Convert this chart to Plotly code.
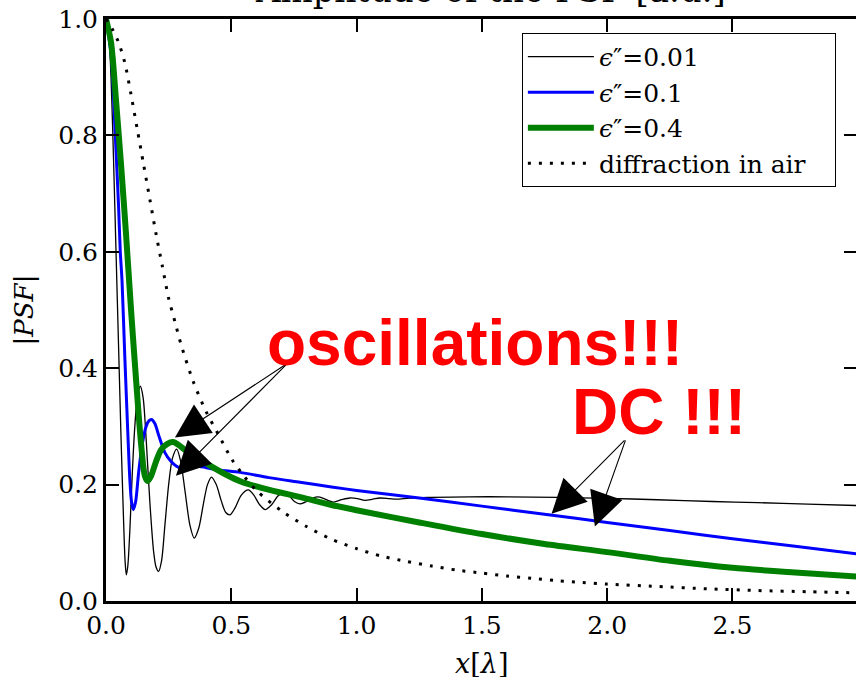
import plotly.graph_objects as go

# ---- data ----
x_air = [0, 0.025, 0.05, 0.075, 0.1, 0.125, 0.15, 0.175, 0.2, 0.225, 0.25, 0.275, 0.3, 0.35, 0.4, 0.45,
         0.5, 0.55, 0.6, 0.7, 0.8, 0.9, 1.0, 1.1, 1.2, 1.3, 1.4, 1.5, 1.6, 1.7, 1.8, 1.9, 2.0, 2.2, 2.4,
         2.6, 2.8, 3.0]
y_air = [1.0, 0.983, 0.96, 0.925, 0.87, 0.81, 0.75, 0.69, 0.63, 0.575, 0.52, 0.48, 0.44, 0.375, 0.325, 0.285,
         0.245, 0.215, 0.19, 0.155, 0.128, 0.106, 0.09, 0.077, 0.068, 0.06, 0.053, 0.048, 0.043, 0.039, 0.035,
         0.032, 0.029, 0.025, 0.021, 0.018, 0.016, 0.014]

x_e001 = [0, 0.01, 0.02, 0.03, 0.04, 0.05, 0.06, 0.07, 0.076, 0.081, 0.087, 0.095, 0.105, 0.115, 0.125, 0.137,
          0.148, 0.16, 0.175, 0.19, 0.2, 0.21, 0.222, 0.235, 0.25, 0.265, 0.282, 0.298, 0.315, 0.335, 0.352,
          0.37, 0.39, 0.405, 0.421, 0.44, 0.46, 0.478, 0.495, 0.515, 0.54, 0.568, 0.59, 0.612, 0.635, 0.66,
          0.685, 0.705, 0.73, 0.752, 0.774, 0.8, 0.825, 0.847, 0.87, 0.907, 0.94, 0.973, 1.003, 1.033, 1.065,
          1.093, 1.13, 1.16, 1.213, 1.3, 1.45, 1.6, 1.8, 2.0, 2.2, 2.42, 2.6, 2.8, 3.0]
y_e001 = [1.0, 0.98, 0.9, 0.76, 0.6, 0.44, 0.28, 0.14, 0.07, 0.045, 0.06, 0.12, 0.22, 0.3, 0.35, 0.369,
          0.35, 0.28, 0.17, 0.085, 0.058, 0.051, 0.07, 0.13, 0.2, 0.245, 0.261, 0.24, 0.19, 0.13, 0.108,
          0.125, 0.17, 0.2, 0.213, 0.2, 0.172, 0.152, 0.148, 0.16, 0.182, 0.191, 0.182, 0.166, 0.157, 0.165,
          0.18, 0.186, 0.181, 0.171, 0.167, 0.171, 0.177, 0.179, 0.176, 0.170, 0.174, 0.177, 0.176, 0.173, 0.175,
          0.177, 0.176, 0.175, 0.177, 0.178, 0.179, 0.179, 0.178, 0.1765, 0.174, 0.171, 0.169, 0.1665, 0.164]

x_e01 = [0, 0.02, 0.037, 0.05, 0.057, 0.064, 0.075, 0.087, 0.095, 0.102, 0.109, 0.118, 0.13, 0.145, 0.16,
         0.172, 0.182, 0.195, 0.21, 0.235, 0.259, 0.28, 0.30, 0.33, 0.36, 0.4, 0.45, 0.535, 0.65, 0.774, 0.9,
         1.0, 1.25, 1.5, 1.75, 2.0, 2.25, 2.5, 2.75, 3.0]
y_e01 = [1.0, 0.94, 0.8, 0.68, 0.6, 0.55, 0.42, 0.29, 0.21, 0.17, 0.157, 0.17, 0.22, 0.27, 0.3,
         0.31, 0.312, 0.305, 0.285, 0.255, 0.24, 0.232, 0.228, 0.23, 0.232, 0.229, 0.225, 0.221, 0.212, 0.204,
         0.196, 0.19, 0.177, 0.163, 0.149, 0.135, 0.121, 0.107, 0.094, 0.081]

x_e04 = [0, 0.02, 0.04, 0.06, 0.08, 0.1, 0.12, 0.14, 0.155, 0.166, 0.18, 0.2, 0.22, 0.245, 0.268, 0.29, 0.32,
         0.35, 0.41, 0.48, 0.54, 0.6, 0.7, 0.78, 0.9, 1.0, 1.25, 1.5, 1.75, 2.0, 2.25, 2.5, 2.75, 3.0]
y_e04 = [1.0, 0.96, 0.86, 0.75, 0.63, 0.5, 0.38, 0.27, 0.215, 0.206, 0.215, 0.24, 0.26, 0.27, 0.273, 0.268,
         0.258, 0.25, 0.234, 0.217, 0.205, 0.197, 0.186, 0.178, 0.165, 0.156, 0.135, 0.115, 0.098, 0.084,
         0.069, 0.057, 0.049, 0.042]

names = ["<i>ϵ</i>″=0.01", "<i>ϵ</i>″=0.1", "<i>ϵ</i>″=0.4", "diffraction in air\u00a0\u00a0\u00a0"]
x_ticks = [0.0, 0.5, 1.0, 1.5, 2.0, 2.5]
y_ticks = [0.0, 0.2, 0.4, 0.6, 0.8, 1.0]

# annotation arrows: (tip_x, tip_y, tail_x, tail_y)
osc_arrows = [(0.275, 0.281, 0.726, 0.409), (0.279, 0.215, 0.726, 0.409)]
dc_arrows = [(1.778, 0.1497, 2.075, 0.2785), (1.951, 0.128, 2.075, 0.2785)]

SERIF = "DejaVu Serif"

fig = go.Figure()
fig.add_trace(go.Scatter(x=x_e001, y=y_e001, mode="lines", name=names[0],
                         line=dict(color="black", width=1.3, shape="spline", smoothing=0.8)))
fig.add_trace(go.Scatter(x=x_e01, y=y_e01, mode="lines", name=names[1],
                         line=dict(color="#0000ff", width=3, shape="spline", smoothing=0.8)))
fig.add_trace(go.Scatter(x=x_e04, y=y_e04, mode="lines", name=names[2],
                         line=dict(color="#008000", width=6, shape="spline", smoothing=0.8)))
fig.add_trace(go.Scatter(x=x_air, y=y_air, mode="lines", name=names[3],
                         line=dict(color="black", width=3, dash="3px,8px", shape="spline", smoothing=0.8)))
fig.add_trace(go.Scatter(x=[], y=[], yaxis="y2", showlegend=False, hoverinfo="skip"))

annotations = []
for tx, ty, ax_, ay_ in osc_arrows + dc_arrows:
    annotations.append(dict(x=tx, y=ty, ax=ax_, ay=ay_, xref="x", yref="y", axref="x", ayref="y",
                            text="", showarrow=True, arrowhead=2, arrowsize=6.2, arrowwidth=1.1,
                            arrowcolor="black", standoff=0))
annotations.append(dict(x=1.474, y=0.444, xref="x", yref="y", text="<b>oscillations!!!</b>",
                        showarrow=False, font=dict(family="Liberation Sans", size=64, color="#ff0000"),
                        xanchor="center", yanchor="middle"))
annotations.append(dict(x=2.207, y=0.325, xref="x", yref="y", text="<b>DC !!!</b>",
                        showarrow=False, font=dict(family="Liberation Sans", size=64, color="#ff0000"),
                        xanchor="center", yanchor="middle"))
annotations.append(dict(x=0.512, y=1, xref="paper", yref="paper", text="Amplitude of the PSF [a.u.]",
                        showarrow=False, font=dict(family=SERIF, size=34, color="black"),
                        xanchor="center", yanchor="bottom", yshift=7))
# x axis title (placed as annotation so it can sit partly at the page edge like the reference)
annotations.append(dict(x=0.5, y=0, xref="paper", yref="paper", text="<i>x</i>[<i>λ</i>]",
                        showarrow=False, font=dict(family=SERIF, size=27, color="black"),
                        xanchor="center", yanchor="top", yshift=-45))

fig.update_layout(
    width=856, height=677,
    margin=dict(l=106, r=0, t=19, b=76),
    paper_bgcolor="white", plot_bgcolor="white",
    font=dict(family=SERIF, size=25, color="black"),
    showlegend=True,
    legend=dict(x=0.5545, y=0.976, xanchor="left", yanchor="top", bgcolor="white",
                bordercolor="black", borderwidth=1, font=dict(family=SERIF, size=25),
                tracegroupgap=0, itemwidth=66),
    xaxis=dict(range=[0, 2.993], tickvals=x_ticks, ticktext=[f"{v:.1f}" for v in x_ticks],
               showline=True, linewidth=3, linecolor="black", mirror="ticks",
               ticks="inside", ticklen=13, tickwidth=1.5, tickcolor="black",
               showgrid=False, zeroline=False, automargin=False,
               tickfont=dict(family=SERIF, size=25)),
    yaxis=dict(range=[0, 1], tickvals=y_ticks, ticktext=[f"{v:.1f}" for v in y_ticks],
               showline=True, linewidth=3, linecolor="black", mirror=False,
               ticks="inside", ticklen=13, tickwidth=1.5, tickcolor="black",
               showgrid=False, zeroline=False, automargin=False,
               tickfont=dict(family=SERIF, size=25),
               title=dict(text="|<i>PSF</i>|", font=dict(family=SERIF, size=26), standoff=18)),
    yaxis2=dict(range=[0, 1], overlaying="y", side="right", tickvals=y_ticks,
                showticklabels=False, showline=False, ticks="inside", ticklen=12,
                tickwidth=1.5, tickcolor="black", showgrid=False, zeroline=False, automargin=False),
    annotations=annotations,
)

fig.write_html("out.html")
